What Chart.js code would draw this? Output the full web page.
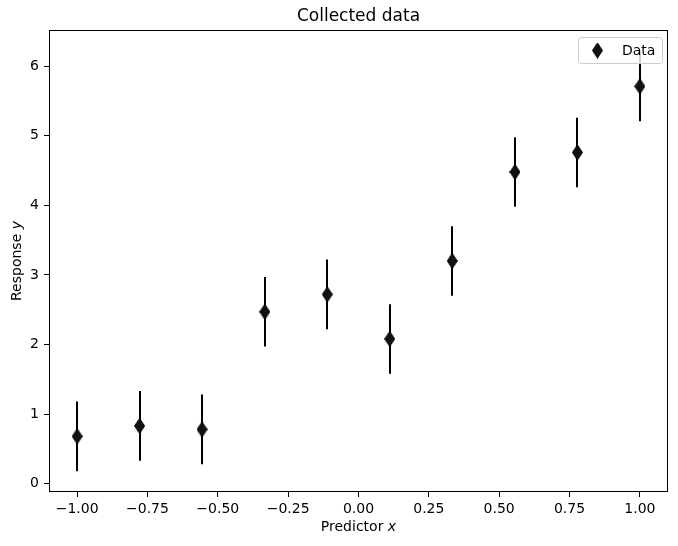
<!DOCTYPE html>
<html>
<head>
<meta charset="utf-8">
<title>Collected data</title>
<script src="https://cdn.jsdelivr.net/npm/chart.js@4"></script>
<style>
    body { margin: 0; background: #fff; }
    #wrap { width: 678px; height: 546px; }
</style>
</head>
<body>
<div id="wrap"><canvas id="dataChart" width="678" height="546"></canvas></div>
<script>
// Data
const xVals = [-1.0, -0.778, -0.556, -0.333, -0.111, 0.111, 0.333, 0.556, 0.778, 1.0];
const yVals = [0.68, 0.83, 0.78, 2.47, 2.72, 2.08, 3.20, 4.48, 4.76, 5.71];
const yErr = [0.5, 0.5, 0.5, 0.5, 0.5, 0.5, 0.5, 0.5, 0.5, 0.5];

// Tick labels
const xTicks = [-1.0, -0.75, -0.5, -0.25, 0, 0.25, 0.5, 0.75, 1.0];
const yTicks = [0, 1, 2, 3, 4, 5, 6];

// Texts
const titleText = 'Collected data';
const xLabel = ['Predictor ', 'x'];
const yLabel = ['Response ', 'y'];
const seriesLabel = 'Data';

const fontFamily = '"DejaVu Sans", sans-serif';

// Thin diamond marker (matplotlib 'd')
function makeDiamond() {
    const c = document.createElement('canvas');
    c.width = 11;
    c.height = 16;
    const g = c.getContext('2d');
    g.beginPath();
    g.moveTo(5.5, 0.5);
    g.lineTo(10.5, 8);
    g.lineTo(5.5, 15.5);
    g.lineTo(0.5, 8);
    g.closePath();
    g.fillStyle = '#111111';
    g.fill();
    g.strokeStyle = '#000000';
    g.lineWidth = 1;
    g.stroke();
    return c;
}
const diamond = makeDiamond();

// Error bars, frame, title, axis titles and legend
const extrasPlugin = {
    id: 'extras',
    beforeDatasetsDraw(chart) {
        const ctx = chart.ctx;
        const xs = chart.scales.x;
        const ys = chart.scales.y;
        ctx.save();
        ctx.strokeStyle = '#000';
        ctx.lineWidth = 2;
        xVals.forEach((xv, i) => {
            const px = Math.round(xs.getPixelForValue(xv));
            ctx.beginPath();
            ctx.moveTo(px, ys.getPixelForValue(yVals[i] - yErr[i]));
            ctx.lineTo(px, ys.getPixelForValue(yVals[i] + yErr[i]));
            ctx.stroke();
        });
        ctx.restore();
    },
    afterDraw(chart) {
        const ctx = chart.ctx;
        const a = chart.chartArea;
        const cx = (a.left + a.right) / 2;
        ctx.save();

        // frame
        ctx.strokeStyle = '#000';
        ctx.lineWidth = 1;
        ctx.strokeRect(Math.round(a.left) + 0.5, Math.round(a.top) + 0.5,
            Math.round(a.right - a.left) - 1, Math.round(a.bottom - a.top) - 1);

        // title, centred on the plot area
        ctx.fillStyle = '#000';
        ctx.textBaseline = 'middle';
        ctx.textAlign = 'center';
        ctx.font = '17px ' + fontFamily;
        ctx.fillText(titleText, cx, 17);

        // axis titles (variable in italics)
        const drawLabel = (parts, x0, y0) => {
            ctx.font = '14px ' + fontFamily;
            const w0 = ctx.measureText(parts[0]).width;
            ctx.font = 'italic 14px ' + fontFamily;
            const w1 = ctx.measureText(parts[1]).width;
            const x = x0 - (w0 + w1) / 2;
            ctx.textAlign = 'left';
            ctx.font = '14px ' + fontFamily;
            ctx.fillText(parts[0], x, y0);
            ctx.font = 'italic 14px ' + fontFamily;
            ctx.fillText(parts[1], x + w0, y0);
        };
        drawLabel(xLabel, cx, 527);
        ctx.save();
        ctx.translate(17, (a.top + a.bottom) / 2);
        ctx.rotate(-Math.PI / 2);
        drawLabel(yLabel, 0, 0);
        ctx.restore();

        // legend
        const bw = 84, bh = 26;
        const bx = a.right - 6 - bw;
        const by = a.top + 7;
        ctx.beginPath();
        ctx.roundRect(bx + 0.5, by + 0.5, bw, bh, 3);
        ctx.fillStyle = 'rgba(255,255,255,0.8)';
        ctx.fill();
        ctx.strokeStyle = '#cccccc';
        ctx.stroke();
        ctx.drawImage(diamond, bx + 14, by + bh / 2 - 8 + 0.5);
        ctx.fillStyle = '#000';
        ctx.font = '14px ' + fontFamily;
        ctx.textAlign = 'left';
        ctx.fillText(chart.data.datasets[0].label, bx + 44, by + bh / 2 + 1);

        ctx.restore();
    }
};

const ctx = document.getElementById('dataChart').getContext('2d');

const dataChart = new Chart(ctx, {
    type: 'scatter',
    data: {
        datasets: [{
            label: seriesLabel,
            data: xVals.map((x, i) => ({ x: x, y: yVals[i] })),
            pointStyle: diamond,
            pointRadius: 6,
            pointHoverRadius: 6
        }]
    },
    options: {
        responsive: false,
        animation: false,
        layout: {
            padding: { left: 0, right: 10, top: 30, bottom: 0 }
        },
        plugins: {
            legend: { display: false },
            tooltip: { enabled: false },
            title: { display: false }
        },
        scales: {
            x: {
                type: 'linear',
                min: -1.1,
                max: 1.1,
                afterBuildTicks: scale => {
                    scale.ticks = xTicks.map(v => ({ value: v }));
                },
                afterFit: scale => {
                    scale.height = 54;
                },
                grid: {
                    drawOnChartArea: false,
                    drawTicks: true,
                    tickLength: 5,
                    color: '#000'
                },
                border: { display: false },
                ticks: {
                    color: '#000',
                    padding: 4,
                    maxRotation: 0,
                    font: { family: fontFamily, size: 14 },
                    callback: v => v.toFixed(2).replace('-', '\u2212')
                }
            },
            y: {
                type: 'linear',
                min: -0.12,
                max: 6.52,
                afterBuildTicks: scale => {
                    scale.ticks = yTicks.map(v => ({ value: v }));
                },
                afterFit: scale => {
                    scale.width = 49;
                },
                grid: {
                    drawOnChartArea: false,
                    drawTicks: true,
                    tickLength: 5,
                    color: '#000'
                },
                border: { display: false },
                ticks: {
                    color: '#000',
                    padding: 5,
                    font: { family: fontFamily, size: 14 },
                    callback: v => String(v)
                }
            }
        }
    },
    plugins: [extrasPlugin]
});
</script>
</body>
</html>
